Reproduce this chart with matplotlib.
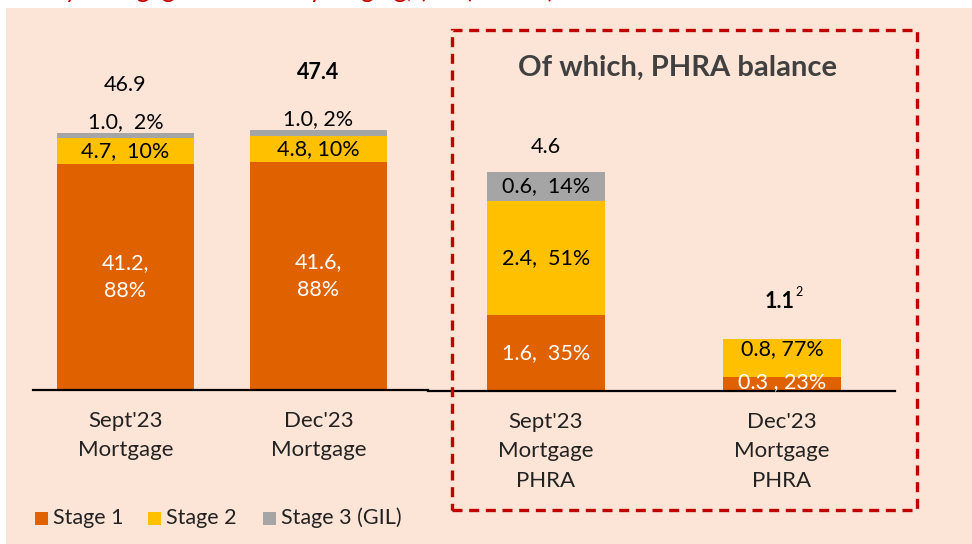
import numpy as np
import matplotlib
matplotlib.use("Agg")
import matplotlib.pyplot as plt
from matplotlib.patches import Rectangle

plt.rcParams['font.family'] = ['Lato', 'DejaVu Sans']

# 데이터
left_cats = ["Sept'23\nMortgage", "Dec'23\nMortgage"]
left_s1 = [41.2, 41.6]
left_s2 = [4.7, 4.8]
left_s3 = [1.0, 1.0]
left_tot = ["46.9", "47.4"]
left_lab1 = ["41.2,\n88%", "41.6,\n88%"]
left_lab2 = ["4.7,  10%", "4.8, 10%"]
left_lab3 = ["1.0,  2%", "1.0, 2%"]

right_cats = ["Sept'23\nMortgage\nPHRA", "Dec'23\nMortgage\nPHRA"]
right_s1 = [1.6, 0.3]
right_s2 = [2.4, 0.8]
right_s3 = [0.6, 0.0]
right_tot = ["4.6", "1.1"]
right_lab1 = ["1.6,  35%", "0.3 , 23%"]
right_lab2 = ["2.4,  51%", "0.8, 77%"]
right_lab3 = ["0.6,  14%", ""]

legend_names = ["Stage 1", "Stage 2", "Stage 3 (GIL)"]

c1, c2, c3 = "#DF6100", "#FFC000", "#A5A5A5"
bg = "#FCE4D6"
fs = 15.5

W, H = 972, 544
fig = plt.figure(figsize=(W / 100, H / 100), dpi=100)
fig.patch.set_facecolor("white")

def px(x0, y0, x1, y1):
    # pixel box (top-left origin) -> figure fraction
    return [x0 / W, 1 - y1 / H, (x1 - x0) / W, (y1 - y0) / H]

# 잘린 제목 (아랫부분만 보임)
fig.text(35 / W, 1 + 2.5 / H, "Key mortgage balances by staging, (£bn) PHRA)", color="#C00000",
         fontsize=18, va="baseline", ha="left")
fig.patches.append(Rectangle((6 / W, 0), 1, 1 - 8 / H, transform=fig.transFigure,
                             facecolor=bg, edgecolor="none", zorder=-1))

def draw(ax, s1, s2, s3, cats, width, ymax, xlim):
    x = np.arange(len(s1))
    s1 = np.array(s1); s2 = np.array(s2); s3 = np.array(s3)
    ax.bar(x, s1, width, color=c1, zorder=2)
    ax.bar(x, s2, width, bottom=s1, color=c2, zorder=2)
    ax.bar(x, s3, width, bottom=s1 + s2, color=c3, zorder=2)
    ax.set_xlim(*xlim)
    ax.set_ylim(0, ymax)
    ax.set_facecolor("none")
    for s in ["top", "right", "left"]:
        ax.spines[s].set_visible(False)
    ax.spines["bottom"].set_linewidth(1.6)
    ax.spines["bottom"].set_color("black")
    ax.set_yticks([])
    ax.set_xticks(x)
    ax.set_xticklabels(cats, fontsize=16, linespacing=1.6, color="#222222")
    ax.tick_params(axis="x", length=0, pad=15)
    return x, s1, s2, s3

# 왼쪽
axl = fig.add_axes(px(33, 40, 428, 390))
x, s1, s2, s3 = draw(axl, left_s1, left_s2, left_s3, left_cats, 0.71, 350 / 5.48, (-0.479, 1.568))
for i in x:
    axl.text(i, s1[i] / 2, left_lab1[i], ha="center", va="center", color="white", fontsize=fs,
             linespacing=1.45, zorder=3)
    axl.text(i, s1[i] + s2[i] / 2, left_lab2[i], ha="center", va="center", color="black", fontsize=fs, zorder=3)
    axl.annotate(left_lab3[i], (i, s1[i] + s2[i] + s3[i]), xytext=(0, 1), textcoords="offset points",
                 ha="center", va="bottom", fontsize=fs, zorder=3)
axl.annotate(left_tot[0], (0, s1[0] + s2[0] + s3[0]), xytext=(0, 27), textcoords="offset points",
             ha="center", va="bottom", fontsize=fs)
axl.annotate(left_tot[1], (1, s1[1] + s2[1] + s3[1]), xytext=(0, 34), textcoords="offset points",
             ha="center", va="bottom", fontsize=fs, fontweight="bold")

# 오른쪽
axr = fig.add_axes(px(428, 40, 895, 391))
x, s1, s2, s3 = draw(axr, right_s1, right_s2, right_s3, right_cats, 0.5, 351 / 47.6, (-0.5, 1.479))
for i in x:
    yl = s1[i] / 2 if i == 0 else s1[i] / 2 + 0.03
    axr.text(i, yl, right_lab1[i], ha="center", va="center", color="white", fontsize=fs, zorder=3)
    yl = s1[i] + s2[i] / 2 if i == 0 else s1[i] + s2[i] * 0.72
    axr.text(i, yl, right_lab2[i], ha="center", va="center", color="black", fontsize=fs, zorder=3)
    if s3[i] > 0:
        axr.text(i, s1[i] + s2[i] + s3[i] / 2, right_lab3[i], ha="center", va="center",
                 color="black", fontsize=fs, zorder=3)
axr.annotate(right_tot[0], (0, s1[0] + s2[0] + s3[0]), xytext=(0, 11), textcoords="offset points",
             ha="center", va="bottom", fontsize=fs)
axr.annotate(right_tot[1], (1, s1[1] + s2[1] + s3[1]), xytext=(-2, 19), textcoords="offset points",
             ha="center", va="bottom", fontsize=fs, fontweight="bold")
axr.annotate("2", (1, s1[1] + s2[1] + s3[1]), xytext=(9.5, 29), textcoords="offset points",
             ha="left", va="bottom", fontsize=9)

fig.text(677 / W, 1 - 68 / H, "Of which, PHRA balance", ha="center", va="center",
         fontsize=21, fontweight="bold", color="#404040")

# 점선 박스
fig.patches.append(Rectangle((452 / W, 1 - 510 / H), (917 - 452) / W, (510 - 30) / H,
                             transform=fig.transFigure, fill=False, edgecolor="#C00000",
                             linewidth=2.4, linestyle=(0, (3, 2)), zorder=5))

# 범례
lx = [35, 148, 263]
for name, col, xx in zip(legend_names, [c1, c2, c3], lx):
    fig.patches.append(Rectangle((xx / W, 1 - 525 / H), 13 / W, 13 / H, transform=fig.transFigure,
                                 facecolor=col, edgecolor="none"))
    fig.text((xx + 18) / W, 1 - 518 / H, name, ha="left", va="center", fontsize=15.5, color="#222222")

fig.savefig("out.png", dpi=100, facecolor=fig.get_facecolor())
